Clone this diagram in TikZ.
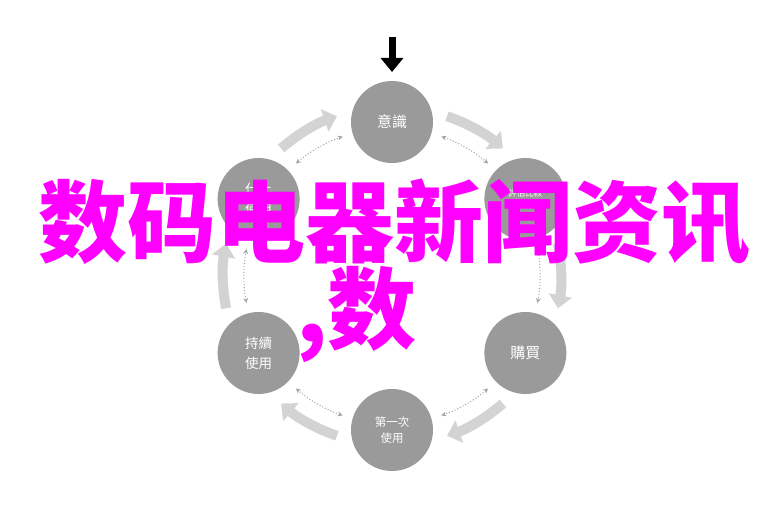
\documentclass[tikz,border=0pt]{standalone}
\usepackage{fontspec}
\newfontfamily\cjksc{Noto Sans CJK SC}
\newfontfamily\cjktc{Noto Sans CJK TC}
\usetikzlibrary{arrows.meta}
\definecolor{circgray}{HTML}{9A9A9A}
\definecolor{bandgray}{HTML}{D3D3D3}
\definecolor{dotgray}{HTML}{A5A5A5}
\definecolor{mag}{HTML}{FF00FF}
\begin{document}
\begin{tikzpicture}[x=1pt,y=1pt,
 circ/.style={circle,fill=circgray,minimum size=82pt,inner sep=0pt,text=white,align=center},
 fbig/.style={font=\cjktc\fontsize{15}{18}\selectfont},
 fmid/.style={font=\cjktc\fontsize{13.5}{20}\selectfont},
 fsmall/.style={font=\cjktc\fontsize{11.5}{16}\selectfont},
 ftiny/.style={font=\cjktc\fontsize{8.5}{12}\selectfont},
 band/.style={draw=bandgray,line width=10pt,-{Triangle[width=23pt,length=13pt]}},
 dots/.style={draw=dotgray,line width=0.9pt,dash pattern=on 1.2pt off 1.8pt,{Stealth[width=5pt,length=5pt]}-{Stealth[width=5pt,length=5pt]}},
 bigtext/.style={text=mag,inner sep=0pt,font=\cjksc\bfseries\fontsize{89}{89}\selectfont}]
\useasboundingbox (0,0) rectangle (768,512);
\fill[white] (0,0) rectangle (768,512);
\coordinate (C) at (392,236);

% thick outer arcs (clockwise)
\foreach \a in {120,60,0,-60,-120,-180}{
  \draw[band] (C) ++(\a+11:169) arc[start angle=\a+11,end angle=\a-11,radius=169];
  \draw[dots] (C) ++(\a+10.5:148) arc[start angle=\a+10.5,end angle=\a-10.5,radius=148];
}

% circles
\path (C) ++(90:154) node[circ,fbig] (n1) {意識};
\path (C) ++(30:154) node[circ,ftiny] (n2) {評估比較\\考慮};
\path (C) ++(-30:154) node[circ,fbig] (n3) {購買};
\path (C) ++(-90:154) node[circ,fsmall] (n4) {第一次\\使用};
\path (C) ++(210:154) node[circ,fmid] (n5) {持續\\使用};
\path (C) ++(150:154) node[circ,fmid] (n6) {仕比\\使用};

% black arrow at top
\coordinate (a0) at (392,475);
\coordinate (a1) at (392,440);
\draw[line width=7pt,-{Triangle[width=22pt,length=14pt]}] (a0) -- (a1);

% magenta overlay text
\node[bigtext,anchor=base] (t1) at (394,256) {数码电器新闻资讯};
\node[bigtext,anchor=base west] (t2) at (296,170) {,数};
\end{tikzpicture}
\end{document}
